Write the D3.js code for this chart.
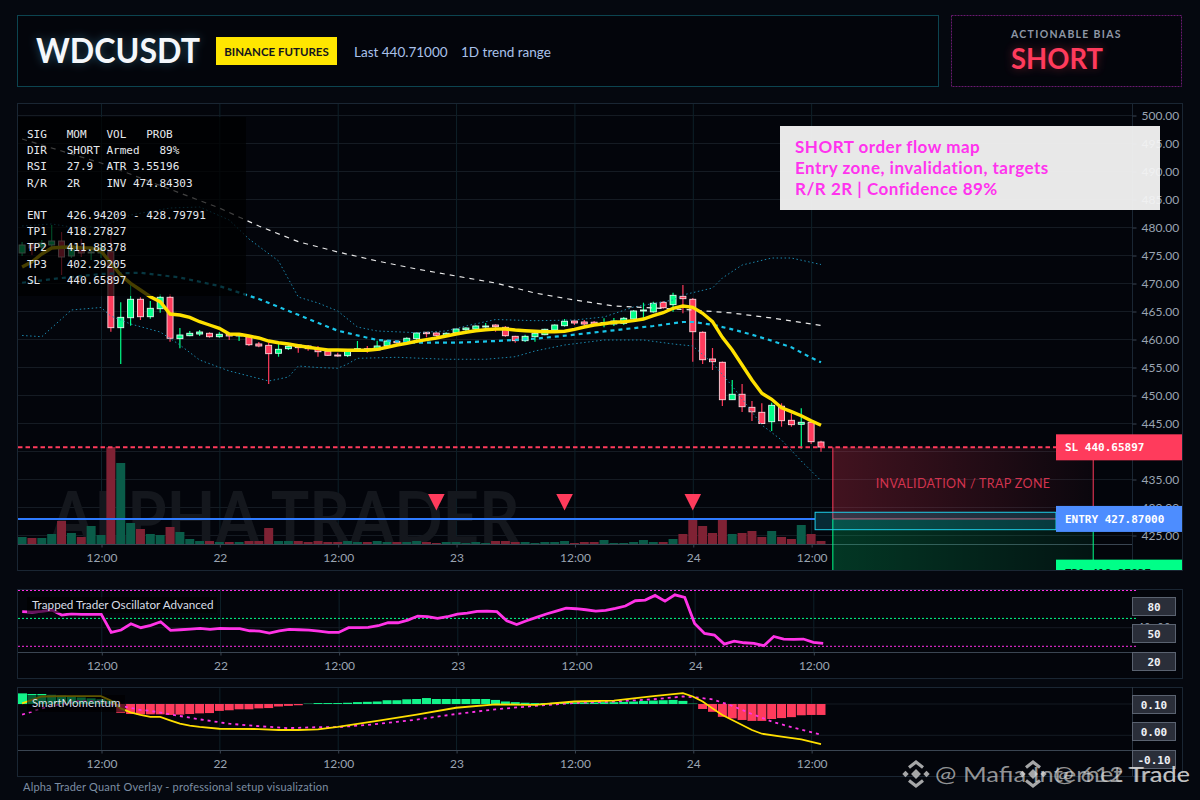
<!DOCTYPE html>
<html>
<head>
<meta charset="utf-8">
<title>WDCUSDT</title>
<script src="https://cdn.jsdelivr.net/npm/d3@7"></script>
<style>
  html, body { margin: 0; padding: 0; background: #05080f; }
  svg { display: block; }
  text { font-family: Lato, "Noto Sans", sans-serif; }
  .mono { font-family: "DejaVu Sans Mono", monospace; white-space: pre; }
  .axis text { fill: #9aa4b2; font-size: 12px; font-family: Lato, "Noto Sans", sans-serif; }
  .axis line, .axis path { stroke: #3a4552; }
</style>
</head>
<body>
<svg id="chart" width="1200" height="800"></svg>
<script>
// candles, one per hour, from 21st 04:00 to 24th 13:00
const opens = [475.36,476.79,476.43,476.79,477.50,474.82,476.25,475.36,475.36,475.59,462.02,463.80,467.09,463.98,465.41,467.45,460.06,460.59,460.89,461.02,460.41,460.89,460.54,460.41,459.11,458.87,457.45,458.27,458.93,458.75,458.27,457.80,457.14,457.02,458.16,458.27,458.04,458.80,459.59,459.46,460.06,461.20,461.07,460.54,461.13,461.66,461.79,462.20,462.50,462.09,460.48,459.70,460.41,460.77,461.61,462.38,463.21,463.04,463.00,462.60,462.68,462.80,463.57,465.00,464.84,466.55,466.13,467.62,467.09,461.20,456.43,455.84,449.16,450.13,447.80,446.91,445.23,448.00,445.48,444.77,445.13,441.61];
const highs = [477.32,477.14,477.68,480.36,479.11,476.61,477.86,476.43,477.14,478.57,466.55,469.64,467.45,466.79,468.04,468.04,461.96,461.43,461.61,461.20,461.20,461.07,461.07,460.50,459.46,459.34,459.11,458.93,459.00,458.93,458.75,457.86,457.55,458.04,459.64,458.75,459.70,459.82,459.70,460.30,461.25,461.25,461.20,461.20,461.91,462.09,462.45,462.86,462.63,462.32,460.60,460.77,461.38,461.84,462.63,463.57,463.45,463.39,463.20,463.70,463.75,463.93,465.18,466.48,466.66,466.79,468.27,469.64,467.30,461.38,458.39,456.00,452.68,451.96,448.93,448.52,448.62,448.52,446.73,447.63,445.20,441.84];
const lows = [474.82,475.00,475.89,476.43,471.43,474.46,474.64,474.11,474.46,461.30,455.54,462.37,463.39,463.63,464.70,459.52,458.34,460.48,460.54,460.23,460.23,459.82,459.64,458.75,458.52,451.96,456.84,458.04,457.55,457.91,456.84,456.96,456.84,456.79,458.04,457.55,457.91,458.62,458.93,459.23,459.82,460.30,460.41,460.41,461.00,461.13,461.66,461.73,461.30,460.41,459.34,459.46,459.52,460.66,461.48,462.20,462.50,462.32,462.32,462.09,462.32,462.50,463.39,463.70,464.70,465.41,464.88,464.59,455.95,455.54,454.46,448.04,449.10,446.96,445.36,444.80,443.57,444.34,444.34,440.41,441.25,439.87];
const closes = [476.79,476.25,477.14,477.50,474.64,476.07,475.36,475.54,476.25,462.02,463.87,467.09,463.98,465.48,467.45,460.13,460.71,461.02,461.25,460.41,460.84,460.54,460.89,458.98,458.75,457.38,458.16,458.70,458.45,458.27,457.73,457.09,457.02,457.91,458.27,458.16,458.75,459.64,459.34,460.13,461.07,460.95,460.66,461.02,461.79,461.96,462.32,462.32,462.20,460.59,459.70,460.48,461.02,461.73,462.50,463.16,462.86,462.68,462.64,462.96,463.21,463.70,465.00,465.18,466.38,465.59,467.80,467.20,461.30,456.30,455.95,449.16,450.13,447.91,447.00,444.90,448.16,445.41,444.70,445.13,441.66,440.71];
const volumes = [7,6,6,10,23,11,7,18,9,97,81,21,15,10,9,17,12,5,3,3,2,2,2,3,3,16,3,3,3,2,3,2,2,3,2,2,3,2,2,2,3,2,1,2,2,1,2,1,3,3,2,2,1,2,2,3,1,2,2,4,1,1,2,4,2,2,5,10,25,18,11,25,10,11,13,7,13,7,5,19,10,3];

// yellow fast average, one value per candle
const fastEma = [472.86,473.80,475.18,476.25,476.38,476.43,476.30,476.25,475.71,473.52,471.43,469.95,468.75,467.55,466.66,464.46,464.29,463.87,463.09,462.50,461.91,460.89,460.84,460.54,460.18,459.64,459.34,459.11,458.80,458.52,458.27,458.04,458.04,457.98,457.98,457.98,458.16,458.52,458.93,459.23,459.59,459.88,460.18,460.54,460.89,461.20,461.48,461.66,461.79,461.79,461.61,461.48,461.38,461.30,461.30,461.38,461.73,462.14,462.50,462.73,462.98,463.09,463.27,463.57,464.16,464.70,465.48,465.89,465.66,464.59,463.09,460.30,458.04,455.36,452.68,450.30,449.23,447.73,447.02,446.30,445.41,444.59];

const midHours = [0,4,8,12,16,20,24,28,32,36,40,44,48,52,56,60,64,67,68,70,72,74,76,78,80,81];
const midBand = [470.05,470.89,471.61,471.84,470.98,469.46,467.14,464.32,461.48,459.82,459.34,459.34,459.64,460.05,460.77,461.55,462.32,463.04,463.04,462.55,461.73,460.77,459.70,458.52,456.66,455.84];
const slowHours = [0,4,8,12,16,20,24,28,32,36,40,44,48,52,56,60,64,68,72,76,80,81];
const slowEma = [495.71,493.57,491.43,488.75,486.07,483.39,480.18,477.38,475.54,473.93,472.50,471.25,470.00,468.21,466.96,465.89,465.54,465.18,464.64,463.75,462.68,462.41];
const upperHours = [0,3,5,8,11,15,18,21,23,26,28,30,32,34,36,40,43,45,48,52,56,59,62,66,67,70,71,73,76,78,81];
const upperBand = [480.18,480.54,480.00,480.00,482.14,483.39,483.57,481.25,477.86,473.93,467.50,466.43,465.00,462.14,461.43,461.13,461.43,462.32,463.48,463.27,463.39,463.93,465.71,466.96,467.86,469.11,470.89,473.21,474.46,474.46,473.30];
const lowerHours = [0,2,5,8,9,11,14,16,18,21,25,27,28,30,32,33,34,38,43,47,50,52,55,59,63,66,68,70,72,75,77,79,81];
const lowerBand = [460.63,460.41,465.18,465.63,464.11,462.68,461.25,458.93,456.25,454.29,452.50,453.21,455.18,454.91,454.77,455.54,456.55,456.73,456.38,456.38,456.84,457.86,458.93,459.82,459.82,459.11,458.75,455.71,451.61,444.64,441.96,438.21,434.70];

// oscillator pane
const oscillator = [57.2,56.8,57.5,59.0,53.6,55.0,54.3,54.3,54.3,34.9,37.5,44.3,40.0,42.5,46.4,37.1,37.8,38.5,39.2,38.2,39.2,38.9,38.9,36.7,36.4,34.2,36.7,38.2,37.8,37.5,36.4,34.9,34.9,40.0,40.0,40.3,42.1,45.3,45.3,48.2,52.5,51.8,50.0,51.8,54.7,55.7,57.5,57.9,57.2,47.5,43.5,47.5,51.1,54.7,57.9,61.1,60.4,59.3,57.9,58.6,60.8,63.3,69.0,69.7,74.7,68.6,75.4,72.6,44.6,33.9,32.1,22.4,25.6,23.8,23.1,20.6,30.6,27.8,27.4,27.8,24.2,23.1];
const oscLevels = [80, 20];
const oscMid = 50;

// momentum pane
const histogram = [0.034,0.032,0.032,0.029,0.027,0.023,0.021,0.018,0.015,0.011,-0.028,-0.032,-0.033,-0.033,-0.033,-0.035,-0.034,-0.032,-0.030,-0.029,-0.022,-0.020,-0.017,-0.017,-0.014,-0.013,-0.008,-0.006,-0.004,0.001,0.003,0.003,0.003,0.004,0.006,0.007,0.008,0.012,0.012,0.015,0.016,0.019,0.016,0.016,0.016,0.016,0.016,0.016,0.013,0.008,0.006,0.004,0.003,0.003,0.004,0.006,0.005,0.005,0.005,0.006,0.006,0.007,0.008,0.010,0.011,0.012,0.013,0.010,0.001,-0.016,-0.025,-0.041,-0.046,-0.051,-0.054,-0.054,-0.048,-0.045,-0.042,-0.036,-0.035,-0.035];
const momHours = [0,2,4,8,9,10,11,12,13,14,15,16,17,18,20,24,26,28,30,32,36,40,44,48,50,52,56,60,64,67,68,69,70,71,72,74,75,77,79,81];
const momFast = [0.102,0.124,0.125,0.125,0.111,0.086,0.073,0.065,0.059,0.059,0.048,0.037,0.031,0.027,0.021,0.020,0.017,0.017,0.019,0.027,0.046,0.066,0.088,0.099,0.098,0.097,0.108,0.111,0.125,0.135,0.124,0.108,0.086,0.065,0.049,0.017,0.005,-0.004,-0.013,-0.028];
const sigHours = [0,2,4,6,8,9,10,12,13,15,18,21,24,27,30,32,35,38,40,44,48,52,56,60,64,67,68,70,72,74,76,78,81];
const momSignal = [0.066,0.086,0.100,0.111,0.108,0.100,0.094,0.081,0.078,0.067,0.051,0.037,0.029,0.023,0.026,0.026,0.033,0.043,0.050,0.068,0.083,0.094,0.103,0.108,0.115,0.124,0.122,0.115,0.094,0.068,0.044,0.026,0.002];

// setup levels
const slPrice = 440.65897;
const entryPrice = 427.87;
const tp1Price = 418.27827;
const entryZone = [425.95, 429.06];
const signalHours = [42, 55, 68];
const signalPrice = 430.9;
const priceTicks = d3.range(425, 501, 5);

const infoLines = [
  "SIG   MOM   VOL   PROB",
  "DIR   SHORT Armed   89%",
  "RSI   27.9  ATR 3.55196",
  "R/R   2R    INV 474.84303",
  "",
  "ENT   426.94209 - 428.79791",
  "TP1   418.27827",
  "TP2   411.88378",
  "TP3   402.29205",
  "SL    440.65897"
];
const noteLines = ["SHORT order flow map", "Entry zone, invalidation, targets", "R/R 2R | Confidence 89%"];

const UP = "#00ff88", DOWN = "#ff3b5c", GRID = "#151b23", VGRID = "#0e2029", FRAME = "#1a2633";

const startTime = Date.UTC(2025, 0, 21, 4);
const hourToDate = h => new Date(startTime + h * 3600000);

const svg = d3.select("#chart");
const defs = svg.append("defs");

function addGradient(id, color, a1, a2) {
  const g = defs.append("linearGradient").attr("id", id);
  g.append("stop").attr("offset", "0%").attr("stop-color", color).attr("stop-opacity", a1);
  g.append("stop").attr("offset", "100%").attr("stop-color", color).attr("stop-opacity", a2);
}
addGradient("redZone", DOWN, 0.25, 0.03);
addGradient("greenZone", UP, 0.2, 0.06);

const blur = defs.append("filter").attr("id", "glow").attr("x", "-30%").attr("y", "-60%").attr("width", "160%").attr("height", "220%");
blur.append("feGaussianBlur").attr("stdDeviation", 5);

function addClip(id, x, y, w, h) {
  defs.append("clipPath").attr("id", id).append("rect").attr("x", x).attr("y", y).attr("width", w).attr("height", h);
}
addClip("mainClip", 18, 104, 1164, 466);
addClip("wmClip", 18, 104, 1114, 440);

function panel(x, y, w, h, stroke, dash) {
  svg.append("rect").attr("x", x + 0.5).attr("y", y + 0.5).attr("width", w).attr("height", h)
    .attr("fill", "#03050b").attr("stroke", stroke).attr("stroke-dasharray", dash || null);
}

// header
panel(17, 15, 921, 71, "#0c4450");
panel(951, 15, 230, 71, "#6a1a70", "2,1");
const fitText = (sel, w) => sel.attr("textLength", w).attr("lengthAdjust", "spacingAndGlyphs");
svg.append("text").attr("x", 36).attr("y", 63).attr("font-size", 35).attr("font-weight", 700).attr("fill", "#5fd0ff")
  .attr("opacity", 0.35).attr("filter", "url(#glow)").call(fitText, 164).text("WDCUSDT");
svg.append("text").attr("x", 36).attr("y", 63).attr("font-size", 35).attr("font-weight", 700).attr("fill", "#f4f7fb").call(fitText, 164).text("WDCUSDT");
svg.append("rect").attr("x", 216).attr("y", 37).attr("width", 121).attr("height", 28).attr("fill", "#ffe600");
svg.append("text").attr("x", 276.5).attr("y", 55.5).attr("text-anchor", "middle").attr("font-size", 11.5).attr("font-weight", 700).attr("fill", "#14141e").text("BINANCE FUTURES");
svg.append("text").attr("x", 354).attr("y", 57).attr("font-size", 13.5).attr("fill", "#a9c1ea").text("Last 440.71000");
svg.append("text").attr("x", 461).attr("y", 57).attr("font-size", 13.5).attr("fill", "#a9c1ea").text("1D trend range");
svg.append("text").attr("x", 1011).attr("y", 38).attr("font-size", 10.5).attr("font-weight", 700).attr("letter-spacing", 1.3).attr("fill", "#8e97a6").text("ACTIONABLE BIAS");
svg.append("text").attr("x", 1011).attr("y", 69).attr("font-size", 29).attr("font-weight", 700).attr("fill", DOWN).attr("opacity", 0.4).attr("filter", "url(#glow)").call(fitText, 92).text("SHORT");
svg.append("text").attr("x", 1011).attr("y", 69).attr("font-size", 29).attr("font-weight", 700).attr("fill", DOWN).call(fitText, 92).text("SHORT");

// frames for the three panes
panel(17, 103, 1165, 467, FRAME);
panel(17, 589, 1165, 89, FRAME);
panel(17, 687, 1165, 89, FRAME);

// scales
const x = d3.scaleUtc().domain([hourToDate(0), hourToDate(81)]).range([22.1, 821]);
const xOsc = d3.scaleUtc().domain([hourToDate(0), hourToDate(81)]).range([22.2, 823.2]);
const y = d3.scaleLinear().domain([425, 500]).range([535, 115]);
const yVol = d3.scaleLinear().domain([0, 100]).range([544, 444]);
const yOsc = d3.scaleLinear().domain([20, 80]).range([646.3, 590.5]);
const yMom = d3.scaleLinear().domain([0, 0.1]).range([735.3, 704]);
const histBase = 0.1;

const timeTicks = d3.utcHour.every(12).range(hourToDate(8), hourToDate(82));
const timeLabel = d => d.getUTCHours() === 0 ? d3.utcFormat("%-d")(d) : "12:00";

function timeAxis(scale, yPos, x2, top) {
  svg.append("g").selectAll("line").data(timeTicks).join("line")
    .attr("x1", d => scale(d) + 0.5).attr("x2", d => scale(d) + 0.5)
    .attr("y1", top).attr("y2", yPos).attr("stroke", VGRID);
  const g = svg.append("g").attr("class", "axis").attr("transform", `translate(0.5,${yPos + 0.5})`)
    .call(d3.axisBottom(scale).tickValues(timeTicks).tickFormat(timeLabel).tickSize(3).tickPadding(6));
  g.select(".domain").remove();
  svg.append("line").attr("x1", 18).attr("x2", x2).attr("y1", yPos + 0.5).attr("y2", yPos + 0.5).attr("stroke", "#3a4552");
}

// main pane
const main = svg.append("g");
main.append("g").selectAll("line").data(priceTicks).join("line")
  .attr("x1", 18).attr("x2", 1132).attr("y1", d => Math.round(y(d)) + 0.5).attr("y2", d => Math.round(y(d)) + 0.5).attr("stroke", GRID);
timeAxis(x, 544, 1132, 104);
svg.append("line").attr("x1", 1132.5).attr("x2", 1132.5).attr("y1", 103).attr("y2", 570).attr("stroke", FRAME);
const priceAxis = svg.append("g").attr("class", "axis").attr("transform", "translate(1132.5,0.5)")
  .call(d3.axisRight(y).tickValues(priceTicks).tickFormat(d3.format(".2f")).tickSize(4).tickPadding(5));
priceAxis.select(".domain").remove();

svg.append("text").attr("clip-path", "url(#wmClip)").attr("x", 50).attr("y", 544).attr("font-size", 72).attr("font-weight", 700)
  .call(fitText, 470).attr("fill", "#14171d").text("ALPHA TRADER");

const plot = svg.append("g").attr("clip-path", "url(#mainClip)");

// invalidation and target zones
const zoneX1 = x(hourToDate(82.2)), zoneX2 = x(hourToDate(108.6));
plot.append("rect").attr("x", zoneX1).attr("y", y(slPrice)).attr("width", zoneX2 - zoneX1).attr("height", y(entryPrice) - y(slPrice)).attr("fill", "url(#redZone)");
plot.append("rect").attr("x", zoneX1).attr("y", y(entryPrice)).attr("width", zoneX2 - zoneX1).attr("height", y(tp1Price) - y(entryPrice)).attr("fill", "url(#greenZone)");
[zoneX1, zoneX2].forEach(zx => {
  plot.append("line").attr("x1", zx).attr("x2", zx).attr("y1", y(slPrice)).attr("y2", y(entryPrice)).attr("stroke", DOWN);
  plot.append("line").attr("x1", zx).attr("x2", zx).attr("y1", y(entryPrice)).attr("y2", y(tp1Price)).attr("stroke", UP);
});
plot.append("text").attr("x", 963).attr("y", 487.5).attr("text-anchor", "middle").attr("font-size", 12.5).attr("letter-spacing", 0.35).attr("fill", "#d2334e").text("INVALIDATION / TRAP ZONE");

// volume
const hours = d3.range(opens.length);
plot.append("g").selectAll("rect").data(hours).join("rect")
  .attr("x", d => x(hourToDate(d)) - 4.5).attr("width", 9)
  .attr("y", d => yVol(volumes[d])).attr("height", d => yVol(0) - yVol(volumes[d]))
  .attr("fill", d => closes[d] >= opens[d] ? "#0a5c49" : "#7f2234");

// candles
const candles = plot.append("g").selectAll("g").data(hours).join("g");
candles.append("line")
  .attr("x1", d => x(hourToDate(d))).attr("x2", d => x(hourToDate(d)))
  .attr("y1", d => y(highs[d])).attr("y2", d => y(lows[d]))
  .attr("stroke", d => closes[d] >= opens[d] ? UP : DOWN).attr("stroke-width", 1.2);
candles.append("rect")
  .attr("x", d => x(hourToDate(d)) - 3).attr("width", 6)
  .attr("y", d => y(Math.max(opens[d], closes[d])))
  .attr("height", d => Math.max(1, y(Math.min(opens[d], closes[d])) - y(Math.max(opens[d], closes[d]))))
  .attr("fill", d => closes[d] >= opens[d] ? UP : DOWN)
  .attr("stroke", d => closes[d] >= opens[d] ? "#d9ffee" : "#ffd5dc").attr("stroke-width", 0.9);

// overlay lines
function drawLine(parent, scaleX, scaleY, hrs, vals, stroke, width, dash) {
  const line = d3.line().x((d, i) => scaleX(hourToDate(hrs[i]))).y(d => scaleY(d));
  return parent.append("path").datum(vals).attr("d", line).attr("fill", "none")
    .attr("stroke", stroke).attr("stroke-width", width).attr("stroke-dasharray", dash || null);
}
drawLine(plot, x, y, upperHours, upperBand, "#1b87ad", 1, "1.5,2.5");
drawLine(plot, x, y, lowerHours, lowerBand, "#1b87ad", 1, "1.5,2.5");
drawLine(plot, x, y, slowHours, slowEma, "#e8e8e8", 1.2, "5,5");
drawLine(plot, x, y, midHours, midBand, "#19c4e8", 2.2, "4,4");
drawLine(plot, x, y, hours, fastEma, "#ffe100", 3.4);

// price lines
plot.append("line").attr("x1", 18).attr("x2", 1056).attr("y1", y(slPrice)).attr("y2", y(slPrice)).attr("stroke", DOWN).attr("stroke-width", 2).attr("stroke-dasharray", "4.5,3");
plot.append("line").attr("x1", 18).attr("x2", 815).attr("y1", y(entryPrice)).attr("y2", y(entryPrice)).attr("stroke", "#2f7bff").attr("stroke-width", 2);
plot.append("line").attr("x1", zoneX1).attr("x2", 1056).attr("y1", y(entryPrice)).attr("y2", y(entryPrice)).attr("stroke", "#e0566e");
const ezX = x(hourToDate(80.4));
plot.append("rect").attr("x", ezX).attr("y", y(entryZone[1])).attr("width", 1056 - ezX).attr("height", y(entryZone[0]) - y(entryZone[1]))
  .attr("fill", "#19c4e8").attr("fill-opacity", 0.2).attr("stroke", "#1fd0ea");

// signal markers
plot.append("g").selectAll("path").data(signalHours).join("path")
  .attr("d", "M-8.3,-8 L8.3,-8 L0,8.5 Z")
  .attr("transform", d => `translate(${x(hourToDate(d))},${y(signalPrice)})`)
  .attr("fill", DOWN);

// right side labels
function priceTag(price, fill, textFill, label) {
  const cy = y(price);
  plot.append("rect").attr("x", 1056).attr("y", cy - 13).attr("width", 126).attr("height", 26).attr("fill", fill);
  plot.append("text").attr("class", "mono").attr("x", 1065).attr("y", cy + 4).attr("font-size", 11).attr("font-weight", 700).attr("fill", textFill).text(label);
}
priceTag(slPrice, DOWN, "#ffffff", "SL 440.65897");
priceTag(entryPrice, "#4d8dff", "#ffffff", "ENTRY 427.87000");
priceTag(tp1Price, UP, "#06140e", "TP1 418.27827");

// info panel
svg.append("rect").attr("x", 18).attr("y", 117).attr("width", 228).attr("height", 179).attr("fill", "#000").attr("fill-opacity", 0.72);
svg.append("g").selectAll("text").data(infoLines).join("text").attr("class", "mono")
  .attr("x", 27).attr("y", (d, i) => 138 + i * 16.2).attr("font-size", 11).attr("fill", "#e6e9ee").text(d => d);

// note box
svg.append("rect").attr("x", 780).attr("y", 126).attr("width", 380).attr("height", 84).attr("fill", "#f4f4f4").attr("fill-opacity", 0.95);
svg.append("g").selectAll("text").data(noteLines).join("text")
  .attr("x", 795).attr("y", (d, i) => 153.3 + i * 20.8).attr("font-size", 17).attr("font-weight", 700).attr("letter-spacing", 0.5).attr("fill", "#ff33ee").text(d => d);

// oscillator pane
timeAxis(xOsc, 652, 1136, 590);
svg.append("line").attr("x1", 18).attr("x2", 1136).attr("y1", yOsc(40)).attr("y2", yOsc(40)).attr("stroke", GRID);
svg.append("g").selectAll("line").data(oscLevels).join("line")
  .attr("x1", 18).attr("x2", 1136).attr("y1", d => yOsc(d)).attr("y2", d => yOsc(d))
  .attr("stroke", "#ff2ee6").attr("stroke-dasharray", "2,2");
svg.append("line").attr("x1", 18).attr("x2", 1136).attr("y1", yOsc(oscMid)).attr("y2", yOsc(oscMid))
  .attr("stroke", UP).attr("stroke-dasharray", "2,2");
drawLine(svg, xOsc, yOsc, hours, oscillator, "#ff33e6", 2.8);
svg.append("rect").attr("x", 27).attr("y", 597).attr("width", 190).attr("height", 16).attr("fill", "#000").attr("fill-opacity", 0.6);
svg.append("text").attr("x", 32).attr("y", 609).attr("font-size", 11.7).attr("fill", "#d8dde6").text("Trapped Trader Oscillator Advanced");

// momentum pane
timeAxis(x, 750, 1132, 688);
svg.append("g").selectAll("line").data([0, 0.1]).join("line")
  .attr("x1", 18).attr("x2", 1132).attr("y1", d => yMom(d)).attr("y2", d => yMom(d)).attr("stroke", GRID);
svg.append("line").attr("x1", 1132.5).attr("x2", 1132.5).attr("y1", 687).attr("y2", 776).attr("stroke", "#2a3440");
svg.append("g").selectAll("rect").data(hours).join("rect")
  .attr("x", d => Math.max(18, x(hourToDate(d)) - 4.5)).attr("width", 9)
  .attr("y", d => yMom(histBase + Math.max(histogram[d], 0)))
  .attr("height", d => Math.abs(yMom(histBase + histogram[d]) - yMom(histBase)))
  .attr("fill", d => histogram[d] >= 0 ? "#12f58a" : DOWN);
drawLine(svg, x, yMom, sigHours, momSignal, "#ff33e6", 1.8, "3,4");
drawLine(svg, x, yMom, momHours, momFast, "#ffdf00", 1.8);
svg.append("rect").attr("x", 27).attr("y", 695).attr("width", 98).attr("height", 17).attr("fill", "#000").attr("fill-opacity", 0.62);
svg.append("text").attr("x", 32).attr("y", 707).attr("font-size", 11.5).attr("fill", "#d8dde6").text("SmartMomentum");

// boxed value labels on the two lower panes
svg.append("text").attr("class", "mono").attr("x", 1154).attr("y", 630.5).attr("text-anchor", "middle").attr("font-size", 11).attr("fill", "#9aa4b2").text("40.00");
function valueTag(cy, label) {
  svg.append("rect").attr("x", 1132.5).attr("y", cy - 9).attr("width", 43).attr("height", 18).attr("fill", "#2a2e39").attr("stroke", "#5a6270");
  svg.append("text").attr("class", "mono").attr("x", 1154).attr("y", cy + 4).attr("text-anchor", "middle").attr("font-size", 11).attr("font-weight", 700).attr("fill", "#eef1f5").text(label);
}
[["80", 606.5], ["50", 633.5], ["20", 661.5], ["0.10", 704.5], ["0.00", 731.5], ["-0.10", 759.5]].forEach(d => valueTag(d[1], d[0]));

svg.append("text").attr("x", 23).attr("y", 791).attr("font-size", 11).attr("letter-spacing", 0.2).attr("fill", "#7d8ea3").text("Alpha Trader Quant Overlay - professional setup visualization");

// the two stamps bottom right
function stamp(cx, label, w) {
  const g = svg.append("g").attr("transform", `translate(${cx},774)`).attr("fill", "#dcdcdc").attr("fill-opacity", 0.75);
  [[0, 7], [-10.5, 4.5], [10.5, 4.5]].forEach(d => {
    g.append("rect").attr("x", -d[1] / 2).attr("y", -d[1] / 2).attr("width", d[1]).attr("height", d[1])
      .attr("transform", `translate(${d[0]},0) rotate(45)`);
  });
  g.append("path").attr("d", "M-7,-6.5 L0,-12 L7,-6.5").attr("fill", "none").attr("stroke", "#dcdcdc").attr("stroke-opacity", 0.75).attr("stroke-width", 3.2);
  g.append("path").attr("d", "M-7,6.5 L0,12 L7,6.5").attr("fill", "none").attr("stroke", "#dcdcdc").attr("stroke-opacity", 0.75).attr("stroke-width", 3.2);
  svg.append("text").attr("x", 1190 - w).attr("y", 782).attr("font-size", 21)
    .attr("font-family", "Inter, sans-serif").attr("fill", "#dcdcdc").attr("fill-opacity", 0.66).call(fitText, w).text(label);
}
stamp(916, "@ Mafia Internet Trade", 255);
stamp(1033, "@ 612 Trade", 137);
</script>
</body>
</html>
